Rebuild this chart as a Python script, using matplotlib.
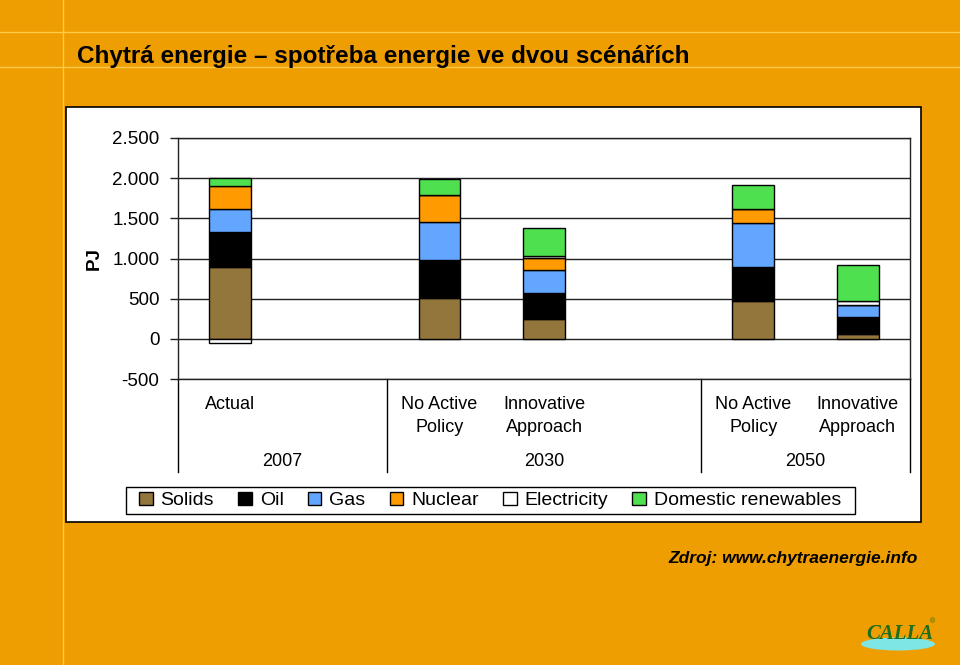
import numpy as np
import matplotlib
matplotlib.use("Agg")
import matplotlib.pyplot as plt
from matplotlib.patches import Rectangle, Ellipse
from matplotlib.lines import Line2D
from matplotlib.ticker import FixedLocator, FixedFormatter

plt.rcParams['font.family'] = ['Liberation Sans', 'DejaVu Sans']

# data (PJ)
slots = [0, 2, 3, 5, 6]          # positions on the category axis (1 and 4 are empty)
scenarios = ["Actual", "No Active\nPolicy", "Innovative\nApproach", "No Active\nPolicy", "Innovative\nApproach"]
groups = ["2007", "2030", "2050"]
sources = ["Solids", "Oil", "Gas", "Nuclear", "Electricity", "Domestic renewables"]
solids = [890, 505, 245, 475, 60]
oil = [435, 475, 330, 415, 210]
gas = [295, 475, 280, 555, 155]
nuclear = [285, 335, 155, 170, 0]
electricity = [-50, 0, 25, 0, 40]
renewables = [95, 205, 340, 305, 450]
yticks = [-500, 0, 500, 1000, 1500, 2000, 2500]
ytick_labels = ["-500", "0", "500", "1.000", "1.500", "2.000", "2.500"]

colors = ["#93763C", "#000000", "#63A6FF", "#FF9A00", "#FFFFFF", "#4FE04F"]
bg = "#EE9E00"

W, H = 960, 665
fig = plt.figure(figsize=(9.6, 6.65), dpi=100, facecolor=bg)

# slide decoration lines
for yy in [32, 67]:
    fig.add_artist(Line2D([0, 1], [1 - yy / H, 1 - yy / H], color="#FFC94A", lw=1))
fig.add_artist(Line2D([63 / W, 63 / W], [0, 1], color="#FFC94A", lw=1))

fig.text(77 / W, 1 - 56 / H, "Chytrá energie – spotřeba energie ve dvou scénářích",
         fontsize=17.5, fontweight="bold", va="center", ha="left")

# white chart box
fig.add_artist(Rectangle((66 / W, 1 - 522 / H), (921 - 66) / W, (522 - 107) / H,
                         facecolor="white", edgecolor="black", lw=1.2,
                         transform=fig.transFigure, zorder=0))

ax = fig.add_axes([178 / W, 1 - 379 / H, (910 - 178) / W, (379 - 138) / H])
ax.set_facecolor("white")

series = [solids, oil, gas, nuclear, electricity, renewables]
pos_bottom = np.zeros(len(slots))
neg_bottom = np.zeros(len(slots))
for vals, col, name in zip(series, colors, sources):
    vals = np.array(vals, dtype=float)
    bottom = np.where(vals >= 0, pos_bottom, neg_bottom)
    ax.bar(slots, vals, bottom=bottom, width=0.4, color=col, edgecolor="black",
           linewidth=1, label=name, zorder=3)
    pos_bottom += np.where(vals >= 0, vals, 0)
    neg_bottom += np.where(vals < 0, vals, 0)

ax.set_xlim(-0.5, 6.5)
ax.set_ylim(-500, 2500)
ax.yaxis.set_major_locator(FixedLocator(yticks))
ax.yaxis.set_major_formatter(FixedFormatter(ytick_labels))
ax.tick_params(axis="y", direction="out", length=6, width=1, pad=7.5, labelsize=13.5,
               color="#222222")
ax.set_xticks([])
ax.grid(axis="y", color="#222222", linewidth=1, zorder=0)
for s in ["top", "bottom", "left", "right"]:
    ax.spines[s].set_linewidth(1)
    ax.spines[s].set_color("#222222")

# multi-level category axis
below = -(472 - 379) / (379 - 138)
for xb in [-0.5, 1.5, 4.5, 6.5]:
    ax.plot([xb, xb], [0, below], color="black", lw=1, transform=ax.get_xaxis_transform(), clip_on=False)
for s, lab in zip(slots, scenarios):
    ax.text(s, -(396 - 379) / 241, lab, ha="center", va="top", fontsize=13,
            linespacing=1.5, transform=ax.get_xaxis_transform())
for gx, g in zip([0.5, 3.0, 5.5], groups):
    ax.text(gx, -(461 - 379) / 241, g, ha="center", va="center", fontsize=13,
            transform=ax.get_xaxis_transform())

fig.text(94 / W, 1 - 258 / H, "PJ", rotation=90, fontsize=13.5, fontweight="bold",
         ha="center", va="center")

# legend: box drawn separately so it can have the wider side padding
fig.add_artist(Rectangle((126 / W, 1 - 514 / H), (855 - 126) / W, (514 - 487) / H,
                         facecolor="white", edgecolor="black", lw=1,
                         transform=fig.transFigure, zorder=1))
leg = fig.legend(loc="center", bbox_to_anchor=(490 / W, 1 - 500.5 / H), ncol=6,
                 fontsize=14, frameon=False,
                 handlelength=0.7, handleheight=0.7, handletextpad=0.4,
                 columnspacing=1.25, borderpad=0.2)
leg.set_zorder(2)

fig.text(918 / W, 1 - 558 / H, "Zdroj: www.chytraenergie.info", fontsize=12.5,
         fontweight="bold", fontstyle="italic", ha="right", va="center")

# small logo
fig.add_artist(Ellipse((898 / W, 1 - 644 / H), 74 / W, 13 / H, facecolor="#7FE6E6",
                       edgecolor="none", transform=fig.transFigure))
fig.text(900 / W, 1 - 634 / H, "CALLA", family="Liberation Serif", fontstyle="italic",
         fontweight="bold", fontsize=15, color="#1E6E1E", ha="center", va="center")
fig.text(933 / W, 1 - 622 / H, "®", fontsize=5, color="#1E6E1E", ha="center", va="center")

fig.savefig("out.png", dpi=100, facecolor=bg)
